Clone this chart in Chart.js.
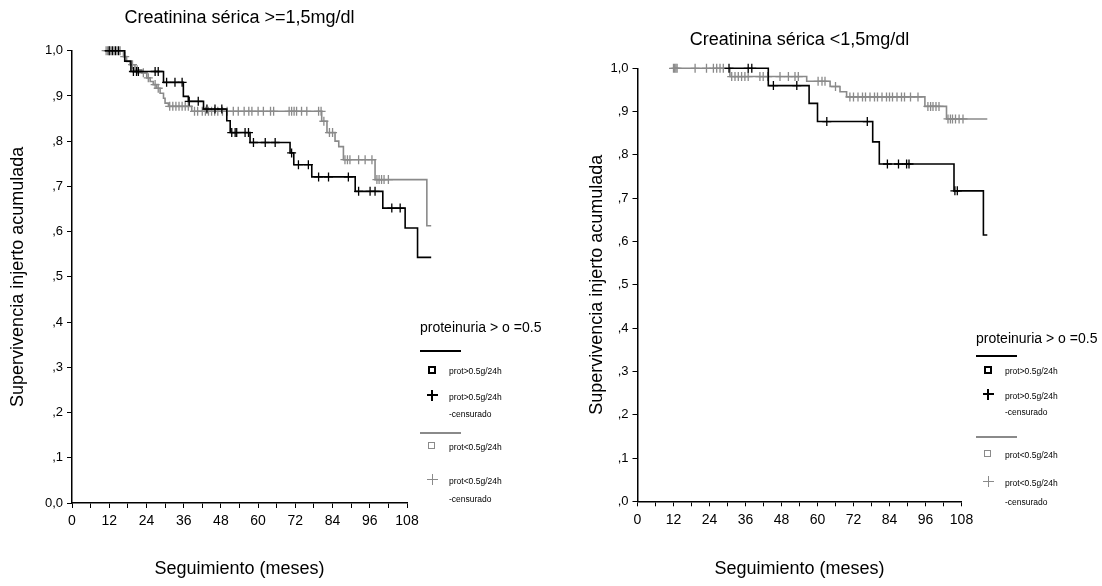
<!DOCTYPE html>
<html>
<head>
<meta charset="utf-8">
<title>Supervivencia del injerto</title>
<script src="https://cdn.jsdelivr.net/npm/chart.js@4.4.1/dist/chart.umd.min.js"></script>
<style>
  body { margin: 0; background: #fff; }
  #wrap { position: relative; width: 1102px; height: 586px; overflow: hidden;
          font-family: Arial, "Liberation Sans", sans-serif; color: #000; }
  #wrap canvas { position: absolute; top: 0; }
  .lg { position: absolute; white-space: nowrap; }
</style>
</head>
<body>
<div id="wrap">
  <canvas id="chartHigh" width="551" height="586" style="left:0px"></canvas>
  <canvas id="chartLow" width="551" height="586" style="left:551px"></canvas>
</div>
<script>
// Kaplan-Meier curves: month of each step and cumulative survival after it.
// "High" = creatinina >= 1,5 mg/dl, "Low" = creatinina < 1,5 mg/dl.

// creatinina >= 1,5 — proteinuria > 0.5 g/24h
const highProtTimes = [10.6, 17.0, 19.0, 29.5, 35.9, 37.5, 42.4, 49.9, 51.0, 57.4, 70.3, 71.5, 77.3, 91.3, 100.2, 107.4, 111.4, 115.8];
const highProtSurv  = [1.0, 0.977, 0.954, 0.930, 0.899, 0.888, 0.871, 0.845, 0.819, 0.797, 0.774, 0.748, 0.721, 0.689, 0.652, 0.608, 0.543, 0.543];
const highProtCensored = [12, 13, 14, 15, 19.8, 20.8, 21.4, 26.8, 27.8, 30.5, 33.2, 35.5, 37.8, 40.7, 43.5, 46.1, 48.3,
  51.5, 52.6, 53.1, 55.8, 56.9, 58.5, 62.3, 65.5, 70.8, 73.0, 76.2, 79.5, 82.7, 89.1, 92.4, 96.1, 97.7, 103.1, 105.8];

// creatinina >= 1,5 — proteinuria < 0.5 g/24h
const highNoProtTimes = [10.6, 16.6, 17.6, 18.7, 20.3, 22.5, 24.1, 25.2, 26.2, 27.3, 28.4, 29.5, 30.0, 31.1, 38.6,
  80.5, 82.2, 84.8, 86.0, 87.5, 97.7, 114.4, 115.8];
const highNoProtSurv  = [1.0, 0.987, 0.976, 0.969, 0.958, 0.951, 0.940, 0.932, 0.925, 0.917, 0.906, 0.895, 0.884, 0.877, 0.866,
  0.844, 0.819, 0.800, 0.788, 0.759, 0.715, 0.613, 0.613];
const highNoProtCensored = [11, 11.5, 12, 12.5, 13.5, 14.5, 15.5, 17, 19.5, 21, 23, 24.6, 26.8, 27.8, 31.5, 32.5, 33.5, 34.5,
  35.5, 36.5, 37.5, 39.5, 40.5, 42, 43, 44, 45, 46, 47, 48.5, 50, 52, 53.6, 55.5, 57, 58, 60, 61.7, 64, 65, 70, 70.8,
  71.6, 72.4, 74, 75.7, 79.5, 80.3, 81.2, 83, 84, 88, 88.8, 89.6, 92.4, 94.5, 96.7, 98.3, 99, 99.8, 100.6, 102];

// creatinina < 1,5 — proteinuria > 0.5 g/24h
const lowProtTimes = [30.5, 43.6, 57.2, 60.0, 78.4, 80.6, 105.5, 115.3, 116.6];
const lowProtSurv  = [1.0, 0.960, 0.919, 0.877, 0.830, 0.779, 0.717, 0.615, 0.615];
const lowProtCensored = [30.5, 36.9, 38.1, 45.3, 53.1, 63.1, 76.6, 83.3, 87.0, 89.7, 90.5, 105.8, 106.6];

// creatinina < 1,5 — proteinuria < 0.5 g/24h
const lowNoProtTimes = [11.9, 30.8, 56.4, 64.2, 67.5, 69.7, 95.8, 103.0, 116.6];
const lowNoProtSurv  = [1.0, 0.981, 0.970, 0.958, 0.946, 0.934, 0.912, 0.883, 0.883];
const lowNoProtCensored = [12, 12.4, 12.8, 13.2, 19.2, 23, 25.3, 26.4, 27.5, 28.6, 31.4, 32.5, 33.6, 34.7, 35.8, 36.9,
  40.8, 41.9, 43.4, 47.5, 50.3, 52.5, 53.6, 60.2, 61.5, 62.5, 66, 70.8, 72, 73.5, 75, 76, 77.5, 79, 80, 81.5, 83, 84,
  85, 86.5, 88, 89, 91, 93.5, 96.8, 97.7, 98.5, 99.5, 100.5, 103.5, 104.3, 105, 106, 107.2, 108.5];

// axis ticks
const monthTicks  = [0, 6, 12, 18, 24, 30, 36, 42, 48, 54, 60, 66, 72, 78, 84, 90, 96, 102, 108];
const monthLabels = ['0', '', '12', '', '24', '', '36', '', '48', '', '60', '', '72', '', '84', '', '96', '', '108'];
const survTicks   = [0, 0.1, 0.2, 0.3, 0.4, 0.5, 0.6, 0.7, 0.8, 0.9, 1.0];
const highSurvLabels = ['0,0', ',1', ',2', ',3', ',4', ',5', ',6', ',7', ',8', ',9', '1,0'];
const lowSurvLabels  = [',0', ',1', ',2', ',3', ',4', ',5', ',6', ',7', ',8', ',9', '1,0'];

const BLACK = '#000000';
const GRAY = '#8a8a8a';
const FONT = 'Arial, "Liberation Sans", sans-serif';

Chart.defaults.font.family = FONT;
Chart.defaults.color = BLACK;

function stepPoints(times, surv) {
    return times.map((t, i) => ({ x: t, y: surv[i] }));
}

// survival level of a curve at month t (used to sit censor marks on the step line)
function survivalAt(times, surv, t) {
    let s = surv[0];
    for (let i = 0; i < times.length; i++) {
        if (times[i] <= t) s = surv[i];
    }
    return s;
}

function censorPoints(times, surv, censored) {
    return censored.map(t => ({ x: t, y: survivalAt(times, surv, t) }));
}

function curveDatasets(times, surv, censored, color, label) {
    return [
        {
            label: label,
            data: stepPoints(times, surv),
            stepped: true,
            borderColor: color,
            borderWidth: 1.6,
            pointRadius: 0,
            fill: false,
            clip: false
        },
        {
            label: label + '-censurado',
            data: censorPoints(times, surv, censored),
            showLine: false,
            pointStyle: 'cross',
            pointRadius: 4.5,
            borderColor: color,
            borderWidth: 1.3,
            clip: false
        }
    ];
}

function makeChart(canvasId, panel) {
    const ctx = document.getElementById(canvasId).getContext('2d');
    return new Chart(ctx, {
        type: 'line',
        data: {
            datasets: [
                ...curveDatasets(panel.protTimes, panel.protSurv, panel.protCensored, BLACK, 'prot>0.5g/24h'),
                ...curveDatasets(panel.noProtTimes, panel.noProtSurv, panel.noProtCensored, GRAY, 'prot<0.5g/24h')
            ]
        },
        options: {
            responsive: false,
            animation: false,
            events: [],
            layout: { padding: { left: 0, right: panel.padRight, top: 0, bottom: 0 } },
            plugins: {
                legend: { display: false },
                tooltip: { enabled: false },
                title: {
                    display: true,
                    text: panel.title,
                    fullSize: false,
                    color: BLACK,
                    font: { size: 18, weight: 'normal' },
                    padding: { top: panel.titleTop, bottom: panel.titleBottom }
                }
            },
            scales: {
                x: {
                    type: 'linear',
                    min: 0,
                    bounds: 'data',
                    // the curves run past the last tick, the axis stops at 108
                    afterDataLimits: s => { s.max = 108; },
                    afterBuildTicks: s => { s.ticks = monthTicks.map(v => ({ value: v })); },
                    afterFit: s => { s.height = panel.xAxisHeight; },
                    grid: { drawOnChartArea: false, drawTicks: true, tickLength: 5, color: BLACK, lineWidth: 1 },
                    border: { color: BLACK, width: 1.5 },
                    ticks: {
                        autoSkip: false, maxRotation: 0, padding: 5, color: BLACK,
                        font: { size: 14 },
                        callback: (v, i) => monthLabels[i]
                    },
                    title: {
                        display: true, text: 'Seguimiento (meses)', color: BLACK,
                        font: { size: 18 }, padding: { top: 0, bottom: 6 }
                    }
                },
                y: {
                    min: 0,
                    max: 1,
                    afterBuildTicks: s => { s.ticks = survTicks.map(v => ({ value: v })); },
                    afterFit: s => { s.width = panel.yAxisWidth; },
                    grid: { drawOnChartArea: false, drawTicks: true, tickLength: 5, color: BLACK, lineWidth: 1 },
                    border: { color: BLACK, width: 1.5 },
                    ticks: {
                        autoSkip: false, padding: 4, color: BLACK,
                        font: { size: 13 },
                        callback: (v, i) => panel.yLabels[i]
                    },
                    title: {
                        display: true, text: 'Supervivencia injerto acumulada', color: BLACK,
                        font: { size: 18 }, padding: { top: panel.yTitlePad, bottom: 0 }
                    }
                }
            }
        }
    });
}

makeChart('chartHigh', {
    title: 'Creatinina sérica >=1,5mg/dl',
    protTimes: highProtTimes, protSurv: highProtSurv, protCensored: highProtCensored,
    noProtTimes: highNoProtTimes, noProtSurv: highNoProtSurv, noProtCensored: highNoProtCensored,
    yLabels: highSurvLabels,
    padRight: 144, yAxisWidth: 72, xAxisHeight: 83,
    titleTop: 7.2, titleBottom: 21.9, yTitlePad: 7.2
});

makeChart('chartLow', {
    title: 'Creatinina sérica <1,5mg/dl',
    protTimes: lowProtTimes, protSurv: lowProtSurv, protCensored: lowProtCensored,
    noProtTimes: lowNoProtTimes, noProtSurv: lowNoProtSurv, noProtCensored: lowNoProtCensored,
    yLabels: lowSurvLabels,
    padRight: 140.5, yAxisWidth: 86.5, xAxisHeight: 84.7,
    titleTop: 29.2, titleBottom: 17.5, yTitlePad: 35.2
});

// ---- legends (html, next to each plot) ----
const wrap = document.getElementById('wrap');

function addText(x, cy, str, size) {
    const d = document.createElement('div');
    d.className = 'lg';
    d.textContent = str;
    d.style.left = x + 'px';
    d.style.top = (cy - size * 0.6) + 'px';
    d.style.fontSize = size + 'px';
    d.style.lineHeight = (size * 1.2) + 'px';
    wrap.appendChild(d);
}

function addRect(x, y, w, h, css) {
    const d = document.createElement('div');
    d.className = 'lg';
    d.style.left = x + 'px';
    d.style.top = y + 'px';
    d.style.width = w + 'px';
    d.style.height = h + 'px';
    Object.assign(d.style, css);
    wrap.appendChild(d);
}

function addBox(cx, cy, size, color, bw) {
    addRect(cx - size / 2, cy - size / 2, size - 2 * bw, size - 2 * bw, { border: bw + 'px solid ' + color });
}

function addCross(cx, cy, size, color, lw) {
    addRect(cx - size / 2, cy - lw / 2, size, lw, { background: color });
    addRect(cx - lw / 2, cy - size / 2, lw, size, { background: color });
}

function drawLegend(x0, r, small) {
    const sx = x0 + 12, tx = x0 + 29;
    addText(x0, r.title, 'proteinuria > o =0.5', 14);
    addRect(x0, r.line - 0.75, 41, 1.5, { background: BLACK });
    addBox(sx, r.box, 8, BLACK, 2);
    addText(tx, r.box + 1, 'prot>0.5g/24h', small);
    addCross(sx, r.cross, 11, BLACK, 2);
    addText(tx, r.cross + 2, 'prot>0.5g/24h', small);
    addText(tx, r.cens, '-censurado', small);
    addRect(x0, r.grayLine - 0.75, 41, 1.5, { background: GRAY });
    addBox(sx, r.grayBox, 8, GRAY, 1.5);
    addText(tx, r.grayBox + 1, 'prot<0.5g/24h', small);
    addCross(sx, r.grayCross, 11, GRAY, 1);
    addText(tx, r.grayCross + 2, 'prot<0.5g/24h', small);
    addText(tx, r.grayCens, '-censurado', small);
}

drawLegend(420, { title: 327, line: 351, box: 370, cross: 395, cens: 414,
                  grayLine: 433, grayBox: 446, grayCross: 479, grayCens: 499 }, 8.5);
drawLegend(976, { title: 338, line: 356, box: 370, cross: 394, cens: 412,
                  grayLine: 437, grayBox: 454, grayCross: 481, grayCens: 502 }, 8.5);
</script>
</body>
</html>
